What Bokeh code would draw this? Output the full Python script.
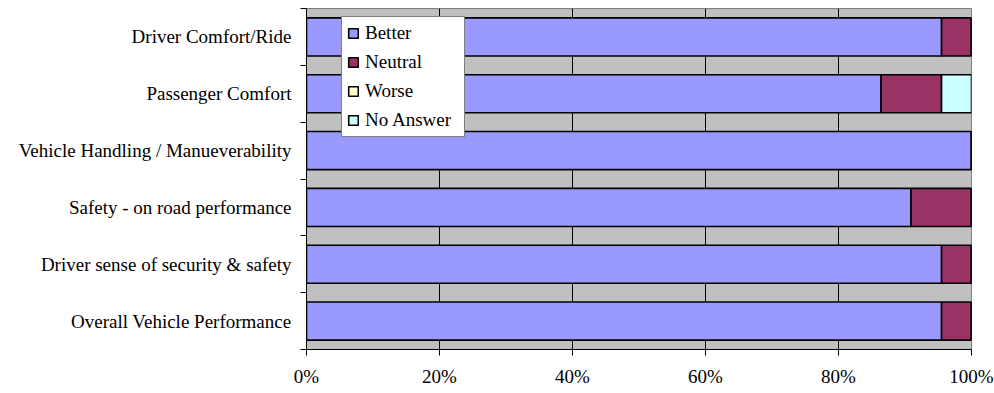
from bokeh.plotting import figure
from bokeh.models import FixedTicker, Legend, LegendItem, ColumnDataSource
from bokeh.embed import file_html
from bokeh.resources import INLINE

# categories listed bottom to top
categories = [
    "Overall Vehicle Performance",
    "Driver sense of security & safety",
    "Safety - on road performance",
    "Vehicle Handling / Manueverability",
    "Passenger Comfort",
    "Driver Comfort/Ride",
]
better = [0.955, 0.955, 0.909, 1.0, 0.864, 0.955]
neutral = [0.045, 0.045, 0.091, 0.0, 0.091, 0.045]
worse = [0.0, 0.0, 0.0, 0.0, 0.0, 0.0]
no_answer = [0.0, 0.0, 0.0, 0.0, 0.045, 0.0]
series_names = ["Better", "Neutral", "Worse", "No Answer"]
series_colors = ["#9999FF", "#993366", "#FFFFCC", "#CCFFFF"]
x_ticks = [0, 0.2, 0.4, 0.6, 0.8, 1.0]
x_tick_labels = ["0%", "20%", "40%", "60%", "80%", "100%"]

FONT = "Liberation Serif"
FS = "19px"

centers = [i + 0.5 for i in range(len(categories))]
src = ColumnDataSource(dict(y=centers, Better=better, Neutral=neutral, Worse=worse,
                            NoAnswer=no_answer))
keys = ["Better", "Neutral", "Worse", "NoAnswer"]

p = figure(width=994, height=393, output_backend="svg", toolbar_location=None,
           x_range=(0, 1), y_range=(0, len(categories)),
           min_border_left=306, min_border_right=23, min_border_top=8, min_border_bottom=44)
p.background_fill_color = "#C0C0C0"
p.border_fill_color = "white"
p.outline_line_color = "#808080"

renderers = p.hbar_stack(keys, y="y", height=0.67, source=src, color=series_colors,
                         line_color="black", line_width=1.6)

# x axis
p.xaxis.ticker = FixedTicker(ticks=x_ticks)
p.xaxis.major_label_overrides = {t: l for t, l in zip(x_ticks, x_tick_labels)}
p.xaxis.major_tick_out = 6
p.xaxis.major_tick_in = 0
p.xaxis.minor_tick_line_color = None
p.xaxis.axis_line_color = "black"
p.xaxis.major_tick_line_color = "black"
p.xaxis.major_label_text_font = FONT
p.xaxis.major_label_text_font_size = FS
p.xaxis.major_label_text_color = "black"
p.xaxis.major_label_standoff = 10

# y axis
p.yaxis.ticker = FixedTicker(ticks=centers, minor_ticks=list(range(len(categories) + 1)))
p.yaxis.major_label_overrides = {c: n for c, n in zip(centers, categories)}
p.yaxis.major_tick_out = 0
p.yaxis.major_tick_in = 0
p.yaxis.minor_tick_out = 6
p.yaxis.minor_tick_in = 0
p.yaxis.minor_tick_line_color = "black"
p.yaxis.axis_line_color = "black"
p.yaxis.major_label_text_font = FONT
p.yaxis.major_label_text_font_size = FS
p.yaxis.major_label_text_color = "black"
p.yaxis.major_label_standoff = 9

p.xgrid.ticker = FixedTicker(ticks=x_ticks)
p.xgrid.grid_line_color = "black"
p.xgrid.grid_line_width = 1
p.ygrid.grid_line_color = None

legend = Legend(items=[LegendItem(label=n, renderers=[r]) for n, r in zip(series_names, renderers)],
                location=(35, 212))
legend.background_fill_color = "white"
legend.background_fill_alpha = 1
legend.border_line_color = "black"
legend.border_line_width = 1
legend.label_text_font = FONT
legend.label_text_font_size = FS
legend.label_text_color = "black"
legend.glyph_width = 12
legend.glyph_height = 12
legend.label_height = 21
legend.label_width = 94
legend.label_standoff = 6
legend.spacing = 7
legend.padding = 5
legend.margin = 0
p.add_layout(legend, "center")

open("out.html", "w").write(file_html(p, INLINE))
